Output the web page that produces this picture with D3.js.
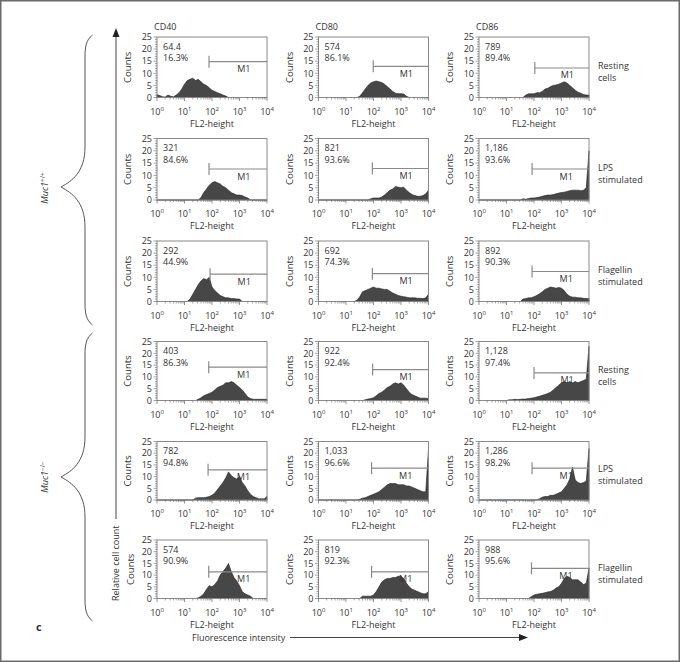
<!DOCTYPE html>
<html>
<head>
<meta charset="utf-8">
<script src="https://cdn.jsdelivr.net/npm/d3@7"></script>
<style>
  body { margin: 0; background: #fff; }
  text { font-family: "Open Sans", sans-serif; fill: #333; }
</style>
</head>
<body>
<script>
var W = 680, H = 662;

var markers = ["CD40", "CD80", "CD86"];
var rowLabels = [["Resting", "cells"], ["LPS", "stimulated"], ["Flagellin", "stimulated"],
                 ["Resting", "cells"], ["LPS", "stimulated"], ["Flagellin", "stimulated"]];
var yTicks = [0, 5, 10, 15, 20, 25];
var xTicks = [1, 10, 100, 1000, 10000];
var xTickExp = ["0", "1", "2", "3", "4"];

// histogram bins (log10 of FL2-height)
var binLog = [0.0, 0.1, 0.2, 0.3, 0.4, 0.5, 0.6, 0.7, 0.8, 0.9,
              1.0, 1.1, 1.2, 1.3, 1.4, 1.5, 1.6, 1.7, 1.8, 1.9,
              2.0, 2.1, 2.2, 2.3, 2.4, 2.5, 2.6, 2.7, 2.8, 2.9,
              3.0, 3.1, 3.2, 3.3, 3.4, 3.5, 3.6, 3.7, 3.8, 3.9, 4.0];

// counts per bin - Muc1 +/+
var wtRestCD40 = [1.2,0.8,0.3,0.2,1.0,0.5,0.3,1.0,2.0,3.5, 5.5,7.0,7.5,8.0,7.0,7.5,6.5,5.5,5.0,4.0, 3.0,2.5,2.0,1.5,1.0,0.6,0,0,0,0, 0,0,0,0,0,0,0,0,0,0,0];
var wtRestCD80 = [0,0,0,0,0,0,0,0,0,0, 0,0,0,0,0,0.5,2,3.5,5,6, 6.5,6.8,6.5,6.2,5.5,4.5,3.5,2.5,1.8,1.6, 1.6,1.4,0.5,0,0,0,0,0,0,0,0];
var wtRestCD86 = [0,0,0,0,0,0,0,0,0,0, 0,0,0,0,0,0,0,1.0,1.5,1.5, 1.5,2.0,2.0,2.5,3.5,3.8,4.5,5.0,5.2,5.5, 6.0,6.5,6.0,5.0,4.0,3.0,2.2,1.8,1.2,1.0,1.0];
var wtLpsCD40  = [0,0,0,0,0,0,0,0,0,0, 0,0,0,0,0,0,1,3,4.5,6, 7,7.5,7,6.5,5.5,5,4,3,2.5,2, 2,1.8,1.2,0.8,0,0,0,0,0,0,0];
var wtLpsCD80  = [0,0,0,0,0,0,0,0,0,0, 0,0,0,0,0,0,0,0,0,0.5, 0.8,0.8,0.8,1.2,2,3,4,4.5,5.5,5.2, 5.0,5.2,4,3,2.2,1.8,1.5,1.5,1.8,2.5,4];
var wtLpsCD86  = [0,0,0,0,0,0,0,0,0,0, 0,0,0,0,0,0,0.5,0.3,0.6,0.8, 0.8,1.0,1.2,1.5,1.8,2.0,2.0,2.2,2.5,2.8, 3.0,3.2,3.5,3.8,4.0,4.0,4.0,3.8,4.0,5.0,20];
var wtFlaCD40  = [0,0,0,0,0,0,0,0,0,0, 0,0,1,3,5,7,8.5,9.5,9,10, 6,4.5,3.5,2.5,2,1.5,1.5,1.2,1.2,1.0, 1.0,0,0,0,0,0,0,0,0,0,0];
var wtFlaCD80  = [0,0,0,0,0,0,0,0,0,0, 0,0,0,0,0.5,2,4,4.5,5,5.5, 6,5.5,5.5,5.2,5.0,5.0,4.2,3.5,3.0,2.5, 2.2,2.0,1.8,1.5,1.5,1.5,1.3,1.3,1.2,1.5,3];
var wtFlaCD86  = [0,0,0,0,0,0,0,0,0,0, 0,0,0,0,0,0,1.0,1.2,1.5,1.5, 2.0,2.5,3.2,4.0,5.0,5.5,6.0,5.8,5.5,5.8, 5.5,4.5,3.0,2.2,1.8,1.8,1.5,1.5,1.3,1.2,1.2];

// counts per bin - Muc1 -/-
var koRestCD40 = [0,0,0,0,0,0,0,0,0,0, 0,0,0,0,0,0.5,1.2,2.0,2.5,3.0, 3.5,4.5,5.5,6.0,6.5,7.5,7.5,8.0,7.5,6.5, 5.5,4.5,3.0,1.5,0.8,0.5,0.5,0.5,0.5,0.5,0.5];
var koRestCD80 = [0,0,0,0,0,0,0,0,0,0, 0,0,0,0,0,0,0,0.3,0.6,0.8, 1.2,2.0,3.0,3.5,4.5,5.5,6.0,7.0,7.5,7.0, 7.5,6.5,5.0,3.5,2.5,2.0,1.5,1.0,1.0,1.0,0.8];
var koRestCD86 = [0,0,0,0,0,0,0,0,0,0, 0,0.3,0.3,0.5,0.4,0.5,0.6,0.6,0.8,1.0, 1.2,1.5,1.8,2.2,2.5,3.0,3.5,4.5,5.5,6.5, 7.5,8.0,7.5,8.0,7.5,8.0,7.5,8.0,8.5,9.0,23];
var koLpsCD40  = [0,0,0,0,0,0,0,0,0,0, 0,0,0,0,0.8,1.0,1.0,1.0,1.2,1.5, 2.0,3.0,4.5,6.0,7.5,9.5,12.0,10.5,9.5,9.0, 10.0,7.5,6.0,4.0,2.5,1.5,1.0,0.5,0.5,0.5,1.5];
var koLpsCD80  = [0,0,0,0,0,0,0,0,0,0, 0,0,0,0,0,0.3,0.8,1.0,1.5,2.0, 2.5,3.0,3.5,4.5,5.5,6.5,7.0,7.0,7.0,6.5, 6.5,6.5,6.0,6.0,5.5,5.0,4.5,4.0,3.5,3.5,22];
var koLpsCD86  = [0,0,0,0,0,0,0,0,0,0, 0,0,0,0,0,0,0,0,0,0, 0,0,0.5,1.2,1.5,1.5,2.0,2.0,2.5,3.0, 3.5,5.0,6.5,9.0,14.0,8.5,7.5,7.0,7.5,8.0,22];
var koFlaCD40  = [0,0,0,0,0,0,0,0,0,0, 0,0,0,0,0,0.3,1.0,2.0,4.0,5.5, 5.0,6.0,7.5,10.0,11.5,13.0,15.0,11.5,9.0,7.5, 5.5,3.0,2.0,1.5,1.0,0,0,0,0,0,0];
var koFlaCD80  = [0,0,0,0,0,0,0,0,0,0, 0,0,0,0,0,0,1.0,1.0,1.0,1.0, 1.5,3.0,5.0,7.0,8.0,8.5,8.5,9.0,9.0,9.5, 9.5,8.5,6.5,5.0,4.0,3.5,3.0,2.5,2.0,2.0,3.0];
var koFlaCD86  = [0,0,0,0,0,0,0,0,0,0, 0,0,0,0,0,0,0,0,0,0.8, 1.5,1.8,2.0,2.2,2.5,2.8,3.0,3.5,4.5,5.0, 6.5,8.5,9.5,9.0,8.0,8.0,8.0,7.0,6.0,6.5,13];

var panelCounts = [wtRestCD40, wtRestCD80, wtRestCD86,
                   wtLpsCD40,  wtLpsCD80,  wtLpsCD86,
                   wtFlaCD40,  wtFlaCD80,  wtFlaCD86,
                   koRestCD40, koRestCD80, koRestCD86,
                   koLpsCD40,  koLpsCD80,  koLpsCD86,
                   koFlaCD40,  koFlaCD80,  koFlaCD86];

// geometric mean and % of events inside M1
var meanFL = ["64.4", "574", "789", "321", "821", "1,186", "292", "692", "892",
              "403", "922", "1,128", "782", "1,033", "1,286", "574", "819", "988"];
var pctM1 = ["16.3%", "86.1%", "89.4%", "84.6%", "93.6%", "93.6%", "44.9%", "74.3%", "90.3%",
             "86.3%", "92.4%", "97.4%", "94.8%", "96.6%", "98.2%", "90.9%", "92.3%", "95.6%"];
// M1 gate: start (FL2-height) and drawn level (counts)
var m1Start = [78, 98, 107, 78, 91, 85, 85, 91, 85,
               76, 93, 100, 72, 85, 85, 76, 85, 81];
var m1Level = [14.8, 12.9, 12.2, 12.6, 12.8, 12.6, 11.3, 11.5, 12.4,
               14.1, 13.1, 11.7, 12.9, 13.6, 13.6, 11.4, 11.4, 12.9];

// layout
var colLeft = [157, 318.5, 479];
var plotW = 110;
var rowTop = [37, 138.5, 241, 341.5, 441.5, 540];
var rowBot = [97.5, 200, 301.5, 400.5, 500, 598.5];

var svg = d3.select("body").append("svg")
            .attr("width", W)
            .attr("height", H);

// outer frame
svg.append("rect")
   .attr("x", 0.75).attr("y", 0.75)
   .attr("width", W - 1.5).attr("height", H - 1.5)
   .attr("fill", "none")
   .attr("stroke", "#6a6a6a")
   .attr("stroke-width", 1.5);

// column headers
markers.forEach(function(m, c)
{
  svg.append("text")
     .attr("x", colLeft[c] - 3)
     .attr("y", rowTop[0] - 7)
     .attr("font-size", "9px")
     .text(m);
});

for (var r = 0; r < 6; r++)
{
  for (var c = 0; c < 3; c++)
  {
    drawPanel(r, c, r * 3 + c);
  }
  // row label, two lines
  var mid = (rowTop[r] + rowBot[r]) / 2;
  svg.append("text")
     .attr("x", 598).attr("y", mid + 1.5)
     .attr("font-size", "9px")
     .text(rowLabels[r][0]);
  svg.append("text")
     .attr("x", 598).attr("y", mid + 13.5)
     .attr("font-size", "9px")
     .text(rowLabels[r][1]);
}

function drawPanel(r, c, k)
{
  var left = colLeft[c], right = colLeft[c] + plotW;
  var top = rowTop[r], bot = rowBot[r];

  var x = d3.scaleLog().domain([1, 10000]).range([left, right]);
  var y = d3.scaleLinear().domain([0, 25]).range([bot, top]);

  var g = svg.append("g");

  // histogram
  var area = d3.area()
               .x(function(d, i) { return x(Math.pow(10, binLog[i])); })
               .y0(bot)
               .y1(function(d) { return y(d); });

  g.append("path")
   .datum(panelCounts[k])
   .attr("d", area)
   .attr("fill", "#474747")
   .attr("stroke", "#222")
   .attr("stroke-width", 0.6)
   .attr("stroke-linejoin", "round");

  // box
  g.append("rect")
   .attr("x", left).attr("y", top)
   .attr("width", plotW).attr("height", bot - top)
   .attr("fill", "none")
   .attr("stroke", "#8a8a8a")
   .attr("stroke-width", 1);

  // y ticks
  for (var v = 0; v <= 25; v++)
  {
    var major = (v % 5 == 0);
    g.append("line")
     .attr("x1", left - (major ? 3.5 : 2)).attr("x2", left)
     .attr("y1", y(v)).attr("y2", y(v))
     .attr("stroke", "#666").attr("stroke-width", 0.6);
  }
  g.selectAll("text.yt").data(yTicks)
   .enter().append("text")
   .attr("class", "yt")
   .attr("x", left - 5)
   .attr("y", function(d) { return y(d) + 3.2; })
   .attr("text-anchor", "end")
   .attr("font-size", "9px")
   .text(function(d) { return d; });

  // x ticks (log, with minors)
  for (var dec = 0; dec < 4; dec++)
  {
    for (var m = 2; m < 10; m++)
    {
      var xv = x(m * Math.pow(10, dec));
      g.append("line")
       .attr("x1", xv).attr("x2", xv)
       .attr("y1", bot).attr("y2", bot + 2)
       .attr("stroke", "#666").attr("stroke-width", 0.6);
    }
  }
  xTicks.forEach(function(t, i)
  {
    g.append("line")
     .attr("x1", x(t)).attr("x2", x(t))
     .attr("y1", bot).attr("y2", bot + 3.5)
     .attr("stroke", "#666").attr("stroke-width", 0.7);
    var tx = g.append("text")
              .attr("x", x(t))
              .attr("y", bot + 17)
              .attr("text-anchor", "middle")
              .attr("font-size", "9px");
    tx.append("tspan").text("10");
    tx.append("tspan").attr("font-size", "6px").attr("dy", -4).text(xTickExp[i]);
  });

  g.append("text")
   .attr("x", (left + right) / 2)
   .attr("y", bot + 29)
   .attr("text-anchor", "middle")
   .attr("font-size", "9px")
   .text("FL2-height");

  // y label
  var cx = (r == 5 && c == 0) ? left - 26 : left - 29;
  g.append("text")
   .attr("transform", "translate(" + cx + "," + ((top + bot) / 2) + ") rotate(-90)")
   .attr("text-anchor", "middle")
   .attr("dy", "0.35em")
   .attr("font-size", "9.5px")
   .text("Counts");

  // stats
  g.append("text")
   .attr("x", left + 6).attr("y", top + 12.5)
   .attr("font-size", "9px")
   .text(meanFL[k]);
  g.append("text")
   .attr("x", left + 6).attr("y", top + 24)
   .attr("font-size", "9px")
   .text(pctM1[k]);

  // M1 gate
  var gx = x(m1Start[k]), gy = y(m1Level[k]);
  g.append("line")
   .attr("x1", gx).attr("x2", right)
   .attr("y1", gy).attr("y2", gy)
   .attr("stroke", "#8a8a8a").attr("stroke-width", 1.2);
  g.append("line")
   .attr("x1", gx).attr("x2", gx)
   .attr("y1", gy - 6).attr("y2", gy + 6)
   .attr("stroke", "#8a8a8a").attr("stroke-width", 1.2);
  g.append("text")
   .attr("x", gx + (right - gx) * 0.6)
   .attr("y", gy + 10.5)
   .attr("text-anchor", "middle")
   .attr("font-size", "9px")
   .text("M1");
}

// vertical arrow: relative cell count
svg.append("line")
   .attr("x1", 116).attr("x2", 116)
   .attr("y1", 519).attr("y2", 35)
   .attr("stroke", "#444").attr("stroke-width", 1);
svg.append("path")
   .attr("d", "M116,28 L112.5,37 L119.5,37 Z")
   .attr("fill", "#222");
svg.append("text")
   .attr("transform", "translate(116,601) rotate(-90)")
   .attr("dy", "0.35em")
   .attr("font-size", "9px")
   .text("Relative cell count");

// horizontal arrow: fluorescence intensity
svg.append("text")
   .attr("x", 192).attr("y", 641)
   .attr("font-size", "9px")
   .text("Fluorescence intensity");
svg.append("line")
   .attr("x1", 290).attr("x2", 521)
   .attr("y1", 637.5).attr("y2", 637.5)
   .attr("stroke", "#444").attr("stroke-width", 1);
svg.append("path")
   .attr("d", "M528,637.5 L519,634 L519,641 Z")
   .attr("fill", "#222");

// curly braces
function brace(y0, ym, y1)
{
  return "M92.5," + y0 +
         " C86," + (y0 + 5) + " 85," + (y0 + 12) + " 85," + (y0 + 22) +
         " L85," + (ym - 40) +
         " C85," + (ym - 15) + " 72," + (ym - 6) + " 61," + ym +
         " C72," + (ym + 6) + " 85," + (ym + 15) + " 85," + (ym + 40) +
         " L85," + (y1 - 22) +
         " C85," + (y1 - 12) + " 86," + (y1 - 5) + " 92.5," + y1;
}
svg.append("path").attr("d", brace(35, 187, 325))
   .attr("fill", "none").attr("stroke", "#444").attr("stroke-width", 0.9);
svg.append("path").attr("d", brace(333, 477, 621))
   .attr("fill", "none").attr("stroke", "#444").attr("stroke-width", 0.9);

function genoLabel(yc, sup)
{
  var t = svg.append("text")
             .attr("transform", "translate(45," + yc + ") rotate(-90)")
             .attr("text-anchor", "middle")
             .attr("dy", "0.35em")
             .attr("font-size", "9px");
  t.append("tspan").attr("font-style", "italic").text("Muc1");
  t.append("tspan").attr("font-size", "6.5px").attr("dy", -3.5).text(sup);
}
genoLabel(188, "+/+");
genoLabel(477, "\u2212/\u2212");

svg.append("text")
   .attr("x", 36).attr("y", 631)
   .attr("font-size", "11px")
   .attr("font-weight", "bold")
   .text("c");
</script>
</body>
</html>
